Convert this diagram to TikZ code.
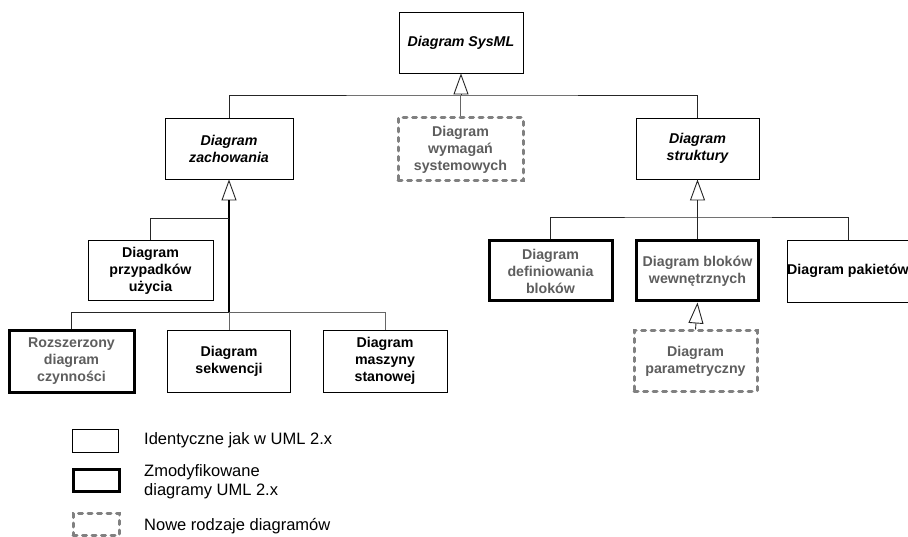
\documentclass[tikz,border=0pt]{standalone}
\usepackage{fontspec}
\setmainfont{Liberation Sans}
\usetikzlibrary{arrows.meta}
\definecolor{newgray}{HTML}{808080}
\definecolor{txtgray}{HTML}{5E5E5E}
\tikzset{
  x=1pt, y=-1pt,
  dbox/.style={draw=black, line width=0.9pt, rectangle, inner sep=0pt, align=center,
     font=\fontsize{14.2}{17}\selectfont\bfseries, fill=white},
  absbox/.style={dbox, font=\fontsize{14.2}{17}\selectfont\bfseries\itshape},
  modbox/.style={dbox, line width=3pt, text=txtgray},
  newbox/.style={dbox, draw=newgray, line width=3pt, line cap=round, dash pattern=on 4pt off 5.5pt, text=txtgray},
  conn/.style={draw=black!85, line width=0.9pt},
  thickconn/.style={draw=black, line width=2pt},
  gen/.style={conn, -{Triangle[length=21pt,width=15pt,fill=white]}},
  legtext/.style={anchor=west, inner sep=0pt, align=left, font=\fontsize{16.5}{19}\selectfont},
}
\begin{document}
\begin{tikzpicture}
\useasboundingbox (0,0) rectangle (908,537);
% nodes
\node[absbox, minimum width=124pt, minimum height=61pt] (sysml) at (461,42.5) {Diagram SysML};
\node[newbox, minimum width=125pt, minimum height=63pt] (wym) at (460.5,149.5) {Diagram\\wymagań\\systemowych};
\node[absbox, minimum width=128pt, minimum height=61pt] (zach) at (229,148.5) {Diagram\\zachowania};
\node[absbox, minimum width=123pt, minimum height=61pt] (strukt) at (697.5,148.5) {Diagram\\struktury};
\node[dbox, minimum width=125pt, minimum height=60pt] (przyp) at (150.5,270.5) {Diagram\\przypadków\\użycia};
\node[modbox, minimum width=123pt, minimum height=60pt] (def) at (550.5,271) {Diagram\\definiowania\\bloków};
\node[modbox, minimum width=122pt, minimum height=60pt] (wew) at (697.5,271) {Diagram bloków\\wewnętrznych};
\node[dbox, minimum width=122pt, minimum height=62pt] (pak) at (848,271) {Diagram pakietów};
\node[modbox, minimum width=125pt, minimum height=61pt] (roz) at (71.5,361.5) {Rozszerzony\\diagram\\czynności};
\node[dbox, minimum width=123pt, minimum height=62pt] (sek) at (229,361) {Diagram\\sekwencji};
\node[dbox, minimum width=124pt, minimum height=62pt] (masz) at (385,361) {Diagram\\maszyny\\stanowej};
\node[newbox, minimum width=123pt, minimum height=60pt] (param) at (695.5,361) {Diagram\\parametryczny};
% junctions
\coordinate (j1) at (461,95);
\coordinate (j2) at (229,312);
\coordinate (j3) at (229,218);
\coordinate (zb) at (229,200);
\coordinate (j4) at (697.5,217);
% top level
\draw[conn] (zach.north) |- (j1) -| (strukt.north);
\draw[conn, draw=black!60] (wym.north) -- (wym.north |- j1);
\draw[gen] (j1) -- (sysml.south);
% behaviour
\draw[gen] (zb) -- (zach.south);
\draw[thickconn] (j2) -- (zb);
\draw[conn] (przyp.north) |- (j3);
\draw[conn] (roz.north) |- (j2);
\draw[conn, draw=black!60] (j2) -| (masz.north);
\draw[conn, draw=black!60] (sek.north) -- (sek.north |- j2);
% structure
\draw[gen] (j4) -- (strukt.south);
\draw[conn] (def.north) |- (j4) -| (pak.north);
\draw[conn] (wew.north) -- (wew.north |- j4);
\draw[gen] (param.north) -- (wew.south);
% legend
\node[dbox, minimum width=46pt, minimum height=23pt] (l1) at (95,440.5) {};
\node[modbox, minimum width=46pt, minimum height=22pt] (l2) at (96,480) {};
\node[newbox, minimum width=46pt, minimum height=22pt] (l3) at (96,524.5) {};
\node[legtext] (t1) at (144,440) {Identyczne jak w UML 2.x};
\node[legtext] (t2) at (144,482) {Zmodyfikowane\\diagramy UML 2.x};
\node[legtext] (t3) at (144,526) {Nowe rodzaje diagramów};
\end{tikzpicture}
\end{document}
